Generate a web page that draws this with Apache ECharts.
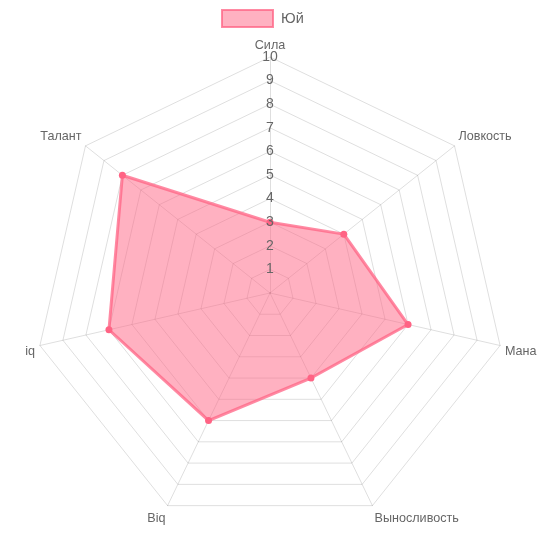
<!DOCTYPE html>
<html>
<head>
<meta charset="utf-8">
<script src="https://cdn.jsdelivr.net/npm/echarts@6/dist/echarts.min.js"></script>
<style>
html,body{margin:0;padding:0;background:#fff;}
#c{width:543px;height:543px;}
</style>
</head>
<body>
<div id="c"></div>
<script>
const categories = ['Сила', 'Ловкость', 'Мана', 'Выносливость', 'Biq', 'iq', 'Талант'];
const seriesName = 'Юй';
const values = [3, 4, 6, 4, 6, 7, 8];
const scaleMax = 10;
const tickValues = [1, 2, 3, 4, 5, 6, 7, 8, 9, 10];

// ECharts radar runs counter-clockwise; reorder so the chart reads clockwise
const order = [0].concat(categories.map((_, i) => i).slice(1).reverse());
const cats = order.map(i => categories[i]);
const vals = order.map(i => values[i]);
// label nudge style per position (layout only)
const posKey = i => {
  const n = cats.length;
  const a = (i / n) * 360;
  const d = Math.min(a, 360 - a);
  if (d < 1) return 't';
  if (d < 80) return 'u';
  if (d < 130) return 'm';
  return 'b';
};

const font = '"Liberation Sans", Arial, sans-serif';
const fs = 12.6;
const chart = echarts.init(document.getElementById('c'));
chart.setOption({
  animation: false,
  legend: {
    top: 4,
    left: 216,
    itemWidth: 51,
    itemHeight: 17,
    icon: 'rect',
    textStyle: { color: '#666', fontSize: 14.5, fontFamily: font, padding: [0, 0, 0, 3] },
    data: [{
      name: seriesName,
      itemStyle: { color: 'rgba(255,99,132,0.5)', borderColor: 'rgba(255,99,132,0.75)', borderWidth: 2 }
    }]
  },
  radar: {
    center: [270, 293],
    radius: 236,
    startAngle: 90,
    splitNumber: tickValues.length,
    shape: 'polygon',
    indicator: cats.map(n => ({ name: n, max: scaleMax, min: 0 })),
    axisName: {
      color: '#666', fontSize: fs, fontFamily: font,
      formatter: (name) => '{' + posKey(cats.indexOf(name)) + '|' + name + '}',
      rich: {
        t: { color: '#666', fontSize: fs, fontFamily: font },
        u: { color: '#666', fontSize: fs, fontFamily: font, padding: [0, 0, 12, 0] },
        m: { color: '#666', fontSize: fs, fontFamily: font, padding: [10, 0, 0, 0] },
        b: { color: '#666', fontSize: fs, fontFamily: font, padding: [16, 0, 0, 0] }
      }
    },
    nameGap: 5,
    splitLine: { lineStyle: { color: 'rgba(0,0,0,0.13)', width: 1 } },
    splitArea: { show: false },
    axisLine: { lineStyle: { color: 'rgba(0,0,0,0.13)', width: 1 } }
  },
  polar: { center: [270, 293], radius: 236 },
  angleAxis: { show: false, startAngle: 90, min: 0, max: 360 },
  radiusAxis: {
    type: 'value', min: 0, max: scaleMax, interval: 1,
    axisLine: { show: false }, axisTick: { show: false }, splitLine: { show: false },
    axisLabel: {
      show: true, margin: 0, align: 'center', verticalAlign: 'middle',
      color: '#666', fontSize: 14, fontFamily: font,
      formatter: v => (tickValues.indexOf(v) >= 0 ? String(v) : '')
    },
    z: 10
  },
  series: [
    {
      type: 'radar',
      name: seriesName,
      symbol: 'circle',
      symbolSize: 7,
      itemStyle: { color: 'rgb(255,99,132)' },
      lineStyle: { color: 'rgb(255,99,132)', width: 3, opacity: 0.75 },
      areaStyle: { color: 'rgba(255,99,132,0.5)', opacity: 1 },
      data: [{ value: vals, name: seriesName }]
    },
    { type: 'scatter', coordinateSystem: 'polar', data: [], silent: true }
  ]
});
</script>
</body>
</html>
